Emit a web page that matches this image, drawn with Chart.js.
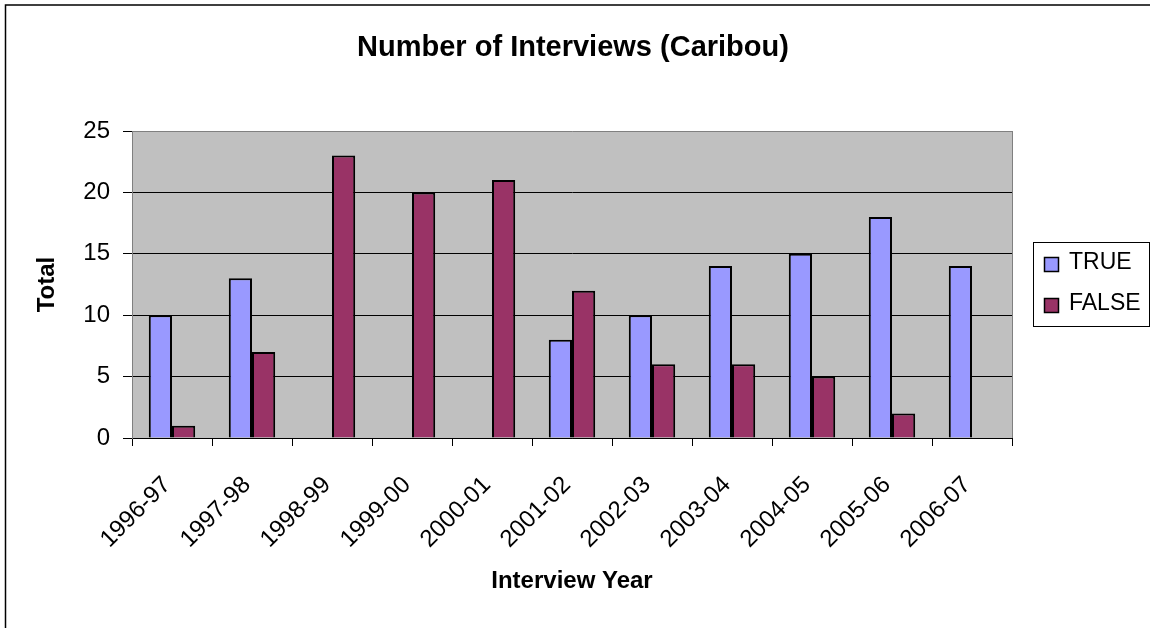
<!DOCTYPE html>
<html>
<head>
<meta charset="utf-8">
<title>Number of Interviews (Caribou)</title>
<script src="https://cdn.jsdelivr.net/npm/chart.js@4/dist/chart.umd.min.js"></script>
<style>
  html, body { margin: 0; padding: 0; background: #ffffff; }
  #wrap { width: 1150px; height: 628px; position: relative; }
  canvas { display: block; }
</style>
</head>
<body>
<div id="wrap"><canvas id="chart" width="1150" height="628"></canvas></div>
<script>
// Interview seasons
const years = ['1996-97', '1997-98', '1998-99', '1999-00', '2000-01', '2001-02',
               '2002-03', '2003-04', '2004-05', '2005-06', '2006-07'];
// Counts per season (null = no interviews in that group)
const trueCounts  = [10, 13, null, null, null, 8, 10, 14, 15, 18, 14];
const falseCounts = [1, 7, 23, 20, 21, 12, 6, 6, 5, 2, null];
const seriesNames = ['TRUE', 'FALSE'];
const yTicks = [0, 5, 10, 15, 20, 25];
const chartTitle = 'Number of Interviews (Caribou)';

const FONT = "'Liberation Sans', Arial, Helvetica, sans-serif";
const TRUE_COLOR = '#9999FF';
const FALSE_COLOR = '#993366';

// Grey plot background, plot frame, outer frame, title and boxed legend
const decor = {
  id: 'decor',
  beforeDraw(chart) {
    const { ctx, chartArea: a } = chart;
    ctx.save();
    ctx.fillStyle = '#C0C0C0';
    ctx.fillRect(a.left, a.top, a.right - a.left, a.bottom - a.top);
    ctx.restore();
  },
  afterDatasetsDraw(chart) {
    const { ctx, chartArea: a } = chart;
    ctx.save();
    // right edge of the plot
    ctx.strokeStyle = '#808080';
    ctx.lineWidth = 1;
    ctx.beginPath();
    ctx.moveTo(Math.round(a.right) + 0.5, a.top);
    ctx.lineTo(Math.round(a.right) + 0.5, a.bottom);
    ctx.stroke();
    ctx.restore();
  },
  afterDraw(chart) {
    const { ctx, chartArea: a } = chart;
    ctx.save();
    // chart frame (left and top edges)
    ctx.strokeStyle = '#000000';
    ctx.lineWidth = 1.5;
    ctx.beginPath();
    ctx.moveTo(5.5, 628);
    ctx.lineTo(5.5, 5);
    ctx.lineTo(1150, 5);
    ctx.stroke();

    // chart title, centred on the whole chart
    ctx.fillStyle = '#000000';
    ctx.font = 'bold 29px ' + FONT;
    ctx.textAlign = 'center';
    ctx.textBaseline = 'middle';
    ctx.fillText(chartTitle, 573, 48);

    // legend
    const bx = a.right + 21, by = 242, bw = 116, bh = 84;
    ctx.lineWidth = 1;
    ctx.fillStyle = '#ffffff';
    ctx.fillRect(bx, by, bw, bh);
    ctx.strokeStyle = '#000000';
    ctx.strokeRect(bx + 0.5, by + 0.5, bw, bh);
    ctx.font = '23px ' + FONT;
    ctx.textBaseline = 'middle';
    ctx.textAlign = 'left';
    chart.data.datasets.forEach((ds, i) => {
      const sy = by + 15 + i * 41;
      ctx.fillStyle = ds.backgroundColor;
      ctx.fillRect(bx + 11, sy, 15, 15);
      ctx.strokeStyle = '#000000';
      ctx.lineWidth = 1.5;
      ctx.strokeRect(bx + 11.5, sy + 0.5, 14, 14);
      ctx.fillStyle = '#000000';
      ctx.fillText(ds.label, bx + 36, sy + 6);
    });
    ctx.restore();
  }
};

new Chart(document.getElementById('chart'), {
  type: 'bar',
  data: {
    labels: years,
    datasets: [
      { label: seriesNames[0], data: trueCounts, backgroundColor: TRUE_COLOR,
        borderColor: '#000000', borderWidth: 2 },
      { label: seriesNames[1], data: falseCounts, backgroundColor: FALSE_COLOR,
        borderColor: '#000000', borderWidth: 2 }
    ]
  },
  options: {
    responsive: false,
    animation: false,
    devicePixelRatio: 1,
    layout: { padding: { left: 0, top: 131, right: 138, bottom: 0 } },
    datasets: { bar: { categoryPercentage: 0.58, barPercentage: 1.0 } },
    plugins: {
      legend: { display: false },
      tooltip: { enabled: false },
      title: { display: false }
    },
    scales: {
      x: {
        afterFit(scale) { scale.height = 190; },
        grid: { offset: true, drawOnChartArea: false, drawTicks: true,
                tickLength: 8, tickColor: '#000000', tickWidth: 1 },
        border: { display: true, color: '#000000', width: 1 },
        ticks: {
          autoSkip: false, minRotation: 45, maxRotation: 45,
          padding: 25, labelOffset: -5,
          color: '#000000', font: { family: FONT, size: 24 }
        },
        title: {
          display: true, text: 'Interview Year', color: '#000000',
          font: { family: FONT, size: 24, weight: 'bold', lineHeight: 1.2 },
          padding: { top: 0, bottom: 32 }
        }
      },
      y: {
        min: 0, max: 25,
        afterFit(scale) { scale.width = 132; },
        afterBuildTicks(scale) { scale.ticks = yTicks.map(v => ({ value: v })); },
        grid: {
          drawTicks: true, tickLength: 9, tickColor: '#000000',
          color: (c) => (c.tick && c.tick.value === 25 ? '#808080' : '#000000'),
          lineWidth: 1
        },
        border: { display: true, color: '#808080', width: 1 },
        ticks: {
          padding: 13, color: '#000000', font: { family: FONT, size: 24 }
        },
        title: {
          display: true, text: 'Total', color: '#000000',
          font: { family: FONT, size: 24, weight: 'bold', lineHeight: 1.2 },
          padding: { top: 33, bottom: 0 }
        }
      }
    }
  },
  plugins: [decor]
});
</script>
</body>
</html>
